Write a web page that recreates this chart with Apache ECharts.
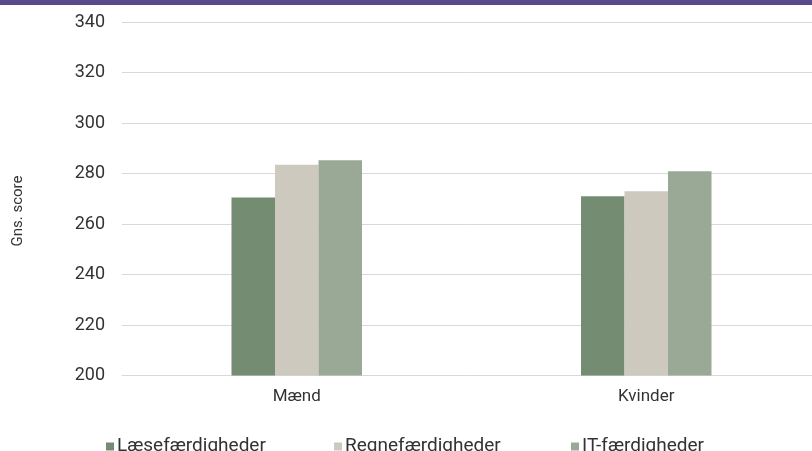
<!DOCTYPE html>
<html><head><meta charset="utf-8">
<script src="https://cdn.jsdelivr.net/npm/echarts@6/dist/echarts.min.js"></script>
<style>html,body{margin:0;padding:0;background:#fff}#c{width:812px;height:451px}</style>
</head><body><div id="c"></div>
<script>
const categories = ['Mænd', 'Kvinder'];
const laese = [270.5, 271.0];
const regne = [283.5, 273.0];
const it = [285.2, 280.9];
const seriesNames = ['Læsefærdigheder', 'Regnefærdigheder', 'IT-færdigheder'];
const colors = ['#738c72', '#cdc9bf', '#9aa996'];
const yTicks = { min: 200, max: 340, interval: 20 };

const FONT = 'Roboto';
const chart = echarts.init(document.getElementById('c'), null, { renderer: 'canvas' });
const mk = (name, data, color) => ({
  name, type: 'bar', data, barWidth: 43.5, barGap: '0%',
  itemStyle: { color }, emphasis: { disabled: true }
});
const lg = (i, left) => ({
  top: 437, left, padding: 0, itemWidth: 8, itemHeight: 8, icon: 'rect',
  selectedMode: false,
  textStyle: { fontSize: 19, color: '#333', fontFamily: FONT, padding: [0, 0, 0, -2] },
  data: [seriesNames[i]]
});
chart.setOption({
  animation: false,
  textStyle: { fontFamily: FONT },
  grid: { left: 122, right: -9, top: 22, bottom: 75.5, containLabel: false, outerBoundsMode: 'none' },
  legend: [lg(0, 106), lg(1, 334), lg(2, 571)],
  xAxis: {
    type: 'category', data: categories,
    axisLine: { lineStyle: { color: '#d9d9d9', width: 1 } },
    axisTick: { show: false },
    axisLabel: { fontSize: 17, color: '#333', margin: 13, fontFamily: FONT }
  },
  yAxis: {
    type: 'value', min: yTicks.min, max: yTicks.max, interval: yTicks.interval,
    axisLine: { show: false }, axisTick: { show: false },
    splitLine: { lineStyle: { color: '#d9d9d9', width: 1 } },
    axisLabel: { fontSize: 18, color: '#333', margin: 17, fontFamily: FONT }
  },
  graphic: [
    { type: 'rect', left: 0, top: 0, shape: { width: 812, height: 5 }, style: { fill: '#5b4a8b' } },
    { type: 'text', x: 18, y: 211, rotation: Math.PI / 2,
      style: { text: 'Gns. score', fontSize: 15, fill: '#333', fontFamily: FONT, align: 'center', verticalAlign: 'middle' } }
  ],
  series: [mk(seriesNames[0], laese, colors[0]), mk(seriesNames[1], regne, colors[1]), mk(seriesNames[2], it, colors[2])]
});
</script></body></html>
